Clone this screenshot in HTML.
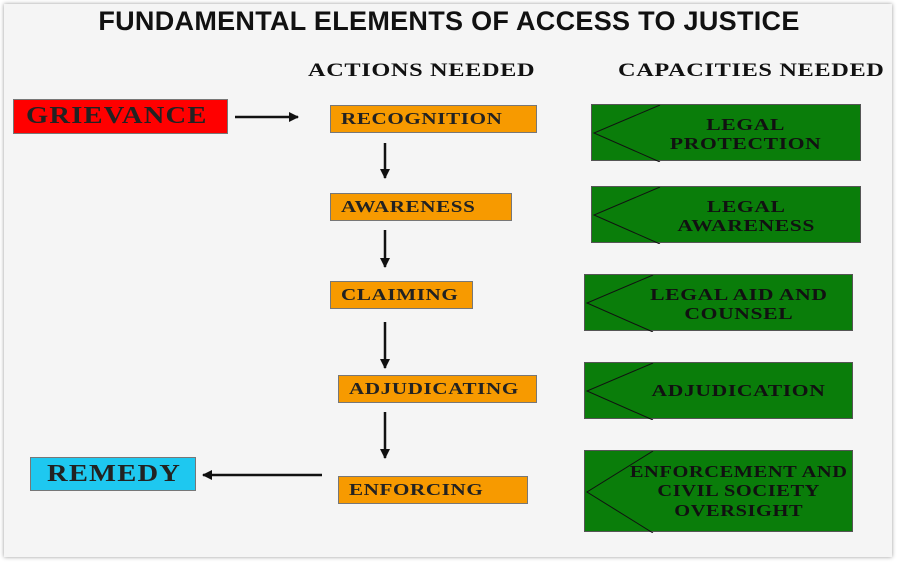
<!DOCTYPE html>
<html><head><meta charset="utf-8"><style>
body{margin:0;width:898px;height:565px;background:#fff;position:relative;overflow:hidden;font-family:"Liberation Serif",serif;}
.panel{position:absolute;left:4px;top:4px;width:888px;height:553px;background:#f5f5f5;box-shadow:0 0 4px #999;}
.a{position:absolute;}
.s{display:inline-block;transform-origin:left center;white-space:nowrap;}
.t{position:absolute;left:0;width:898px;top:6px;text-align:center;font:bold 27px "Liberation Sans",sans-serif;color:#111;letter-spacing:0.3px;}
.h{position:absolute;font-weight:bold;font-size:19px;color:#111;letter-spacing:0.5px;}
.h .s{transform:scaleX(1.28);}
.o{position:absolute;background:#f79a00;border:1px solid #777;box-sizing:border-box;font-weight:bold;font-size:17px;color:#222;display:flex;align-items:center;padding-left:10px;letter-spacing:0.5px;white-space:nowrap;}
.o .s{transform:scaleX(1.24);}
.g{position:absolute;background:#0a7d0a;border:1px solid #555;box-sizing:border-box;}
.g svg{position:absolute;left:0;top:0;}
.g div{position:absolute;left:40px;right:0;top:3px;bottom:0;display:flex;align-items:center;justify-content:center;text-align:center;font-weight:bold;font-size:17px;line-height:19.5px;color:#111;letter-spacing:0.5px;white-space:nowrap;}
.g div span{display:inline-block;transform:scaleX(1.27);transform-origin:center;}
</style></head><body>
<div class="panel"></div>
<div class="t">FUNDAMENTAL ELEMENTS OF ACCESS TO JUSTICE</div>
<div class="h" style="left:308px;top:60px"><span class="s">ACTIONS NEEDED</span></div>
<div class="h" style="left:618px;top:60px"><span class="s">CAPACITIES NEEDED</span></div>
<div class="a" style="left:13px;top:99px;width:215px;height:35px;background:#f00;border:1px solid #777;box-sizing:border-box;font-weight:bold;font-size:24px;color:#222;display:flex;align-items:center;padding-left:12px;letter-spacing:1px"><span class="s" style="transform:scaleX(1.19)">GRIEVANCE</span></div>
<div class="a" style="left:30px;top:457px;width:166px;height:34px;background:#1ec8f0;border:1px solid #777;box-sizing:border-box;font-weight:bold;font-size:24px;color:#222;display:flex;align-items:center;padding-left:16px;letter-spacing:1px"><span class="s" style="transform:scaleX(1.19)">REMEDY</span></div>
<div class="o" style="left:330px;top:105px;width:207px;height:28px"><span class="s">RECOGNITION</span></div>
<div class="o" style="left:330px;top:193px;width:182px;height:28px"><span class="s">AWARENESS</span></div>
<div class="o" style="left:330px;top:281px;width:143px;height:28px"><span class="s">CLAIMING</span></div>
<div class="o" style="left:338px;top:375px;width:199px;height:28px"><span class="s">ADJUDICATING</span></div>
<div class="o" style="left:338px;top:476px;width:190px;height:28px"><span class="s">ENFORCING</span></div>
<svg class="a" style="left:0;top:0" width="898" height="565">
<defs><marker id="m" markerWidth="10" markerHeight="10" refX="9" refY="5" orient="auto" markerUnits="userSpaceOnUse"><path d="M0,0 L10,5 L0,10z" fill="#111"/></marker></defs>
<g stroke="#111" stroke-width="2.5" marker-end="url(#m)">
<line x1="235" y1="117" x2="298" y2="117"/>
<line x1="385" y1="143" x2="385" y2="178"/>
<line x1="385" y1="230" x2="385" y2="267"/>
<line x1="385" y1="322" x2="385" y2="368"/>
<line x1="385" y1="412" x2="385" y2="458"/>
<line x1="322" y1="475" x2="203" y2="475"/>
</g></svg>
<div class="g" style="left:591px;top:104px;width:270px;height:57px"><svg width="270" height="57"><polyline points="68,0 2,28 68,57" fill="none" stroke="#111"/></svg><div><span>LEGAL<br>PROTECTION</span></div></div>
<div class="g" style="left:591px;top:186px;width:270px;height:57px"><svg width="270" height="57"><polyline points="68,0 2,28 68,57" fill="none" stroke="#111"/></svg><div><span>LEGAL<br>AWARENESS</span></div></div>
<div class="g" style="left:584px;top:274px;width:269px;height:57px"><svg width="270" height="57"><polyline points="68,0 2,28 68,57" fill="none" stroke="#111"/></svg><div><span>LEGAL AID AND<br>COUNSEL</span></div></div>
<div class="g" style="left:584px;top:362px;width:269px;height:57px"><svg width="270" height="57"><polyline points="68,0 2,28 68,57" fill="none" stroke="#111"/></svg><div style="top:0"><span>ADJUDICATION</span></div></div>
<div class="g" style="left:584px;top:450px;width:269px;height:82px"><svg width="270" height="82"><polyline points="68,0 2,41 68,82" fill="none" stroke="#111"/></svg><div style="left:40px;top:0"><span style="transform:scaleX(1.2)">ENFORCEMENT AND<br>CIVIL SOCIETY<br>OVERSIGHT</span></div></div>
</body></html>
